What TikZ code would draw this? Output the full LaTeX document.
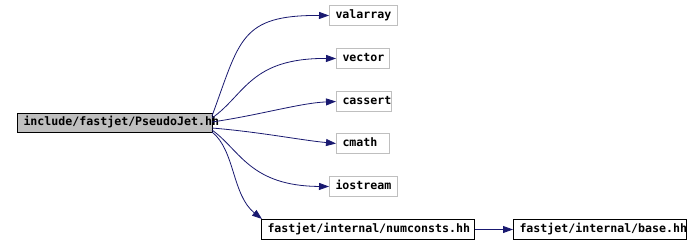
\documentclass[tikz,border=0pt]{standalone}
\usepackage{fontspec}
\setmonofont{DejaVu Sans Mono}
\usetikzlibrary{arrows.meta}
\definecolor{edgeblue}{HTML}{191970}
\definecolor{boxgray}{HTML}{BFBFBF}
\tikzset{
  box/.style={draw, rectangle, inner xsep=6pt, inner ysep=0pt, anchor=north west, line width=1pt,
    align=left, minimum height=20pt,
    font=\ttfamily\bfseries\fontsize{11.6}{12}\selectfont, text height=7pt, text depth=2pt},
  sysbox/.style={box, draw=boxgray},
  mainbox/.style={box, draw=black, fill=boxgray},
  dep/.style={draw=edgeblue, line width=0.8pt, -{Triangle[length=10pt,width=7pt]}, fill=none},
}
\begin{document}
\begin{tikzpicture}[x=1pt,y=-1pt]
\useasboundingbox (0,0) rectangle (692,244);
\node[mainbox, text width=183pt, minimum height=19pt] (main) at (17,113) {include/fastjet/PseudoJet.hh};
\node[sysbox, text width=56pt] (valarray) at (329,5) {valarray};
\node[sysbox, text width=41pt] (vector) at (336,48) {vector};
\node[sysbox, text width=43pt] (cassert) at (336,91) {cassert};
\node[sysbox, text width=41pt] (cmath) at (336,133) {cmath};
\node[sysbox, text width=56pt] (iostream) at (329,176) {iostream};
\node[box, text width=201pt] (numconsts) at (261,219) {fastjet/internal/numconsts.hh};
\node[box, text width=161pt] (base) at (513,219) {fastjet/internal/base.hh};
\coordinate (s1) at (212,116);
\coordinate (s2) at (212,118);
\coordinate (s3) at (212,122);
\coordinate (s4) at (212,128);
\coordinate (s5) at (212,130);
\coordinate (s6) at (212,132);
\coordinate (t6) at (262,219);
\draw[dep] (s1) .. controls (240,40) and (240,15) .. (valarray.west);
\draw[dep] (s2) .. controls (245,95) and (250,58) .. (vector.west);
\draw[dep] (s3) .. controls (260,115) and (300,103) .. (cassert.west);
\draw[dep] (s4) .. controls (260,132) and (300,140) .. (cmath.west);
\draw[dep] (s5) .. controls (240,150) and (250,186) .. (iostream.west);
\draw[dep] (s6) .. controls (235,150) and (232,195) .. (t6);
\draw[dep] (numconsts.east) -- (base.west);
\end{tikzpicture}
\end{document}
